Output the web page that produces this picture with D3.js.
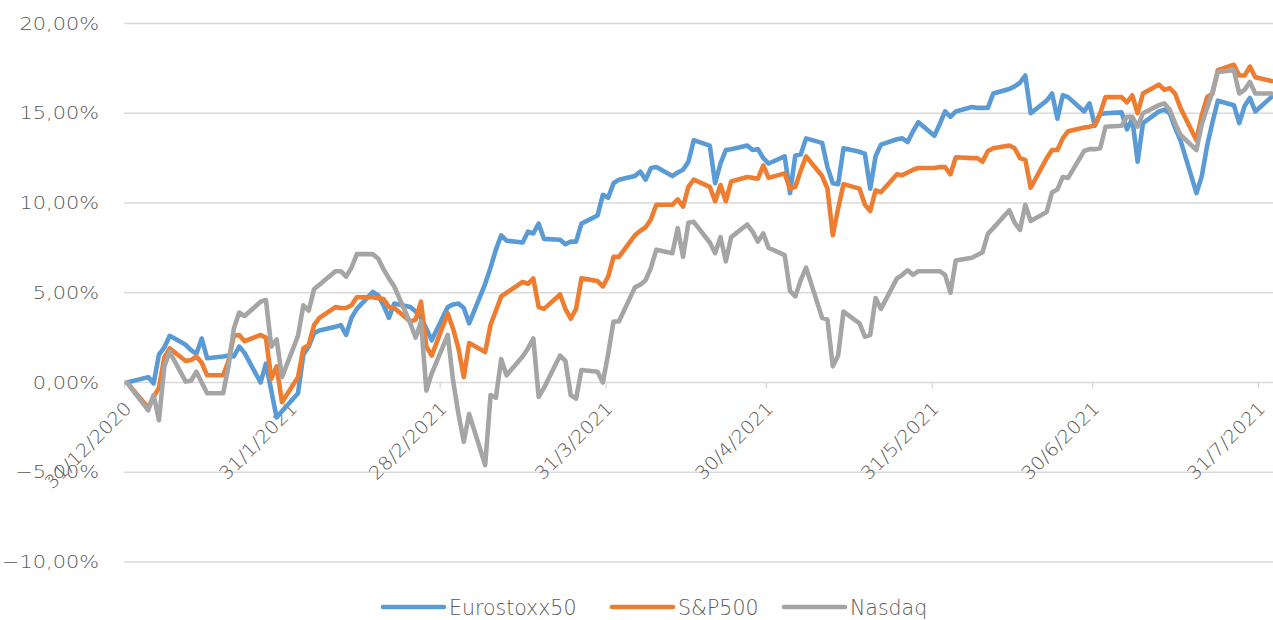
<!DOCTYPE html>
<html>
<head>
<meta charset="utf-8">
<script src="https://cdn.jsdelivr.net/npm/d3@7"></script>
<style>
  body { margin: 0; background: #fff; }
  svg text { font-family: "DejaVu Sans", sans-serif; font-weight: 200; fill: #595959; }
</style>
</head>
<body>
<div id="chart"></div>
<script>
// cumulative performance since 31/12/2020, in %
var euroPoints = [["31/12",0],["4/1",0.3],["5/1",-0.05],["6/1",1.55],["7/1",1.95],["8/1",2.6],
  ["11/1",2.1],["12/1",1.8],["13/1",1.6],["14/1",2.45],["15/1",1.35],["18/1",1.45],["19/1",1.5],
  ["20/1",1.45],["21/1",2.0],["22/1",1.65],["25/1",0.0],["26/1",1.05],["27/1",-0.45],["28/1",-1.95],
  ["29/1",-1.6],["1/2",-0.6],["2/2",1.55],["3/2",2.0],["4/2",2.75],["5/2",2.9],["8/2",3.1],["9/2",3.2],
  ["10/2",2.65],["11/2",3.6],["12/2",4.1],["15/2",5.05],["16/2",4.85],["17/2",4.3],["18/2",3.6],
  ["19/2",4.4],["22/2",4.2],["23/2",3.95],["24/2",3.6],["25/2",3.0],["26/2",2.35],["1/3",4.2],
  ["2/3",4.35],["3/3",4.4],["4/3",4.15],["5/3",3.3],["8/3",5.5],["9/3",6.4],["10/3",7.4],["11/3",8.2],
  ["12/3",7.9],["15/3",7.8],["16/3",8.4],["17/3",8.3],["18/3",8.85],["19/3",8.0],["22/3",7.95],
  ["23/3",7.7],["24/3",7.85],["25/3",7.85],["26/3",8.85],["29/3",9.3],["30/3",10.45],["31/3",10.3],
  ["1/4",11.1],["2/4",11.3],["5/4",11.5],["6/4",11.75],["7/4",11.3],["8/4",11.95],["9/4",12.0],
  ["12/4",11.5],["13/4",11.7],["14/4",11.85],["15/4",12.3],["16/4",13.5],["19/4",13.2],["20/4",11.1],
  ["21/4",12.2],["22/4",12.95],["23/4",13.0],["26/4",13.2],["27/4",12.95],["28/4",13.0],["29/4",12.5],
  ["30/4",12.2],["3/5",12.6],["4/5",10.55],["5/5",12.65],["6/5",12.7],["7/5",13.6],["10/5",13.35],
  ["11/5",12.0],["12/5",11.1],["13/5",11.05],["14/5",13.05],["17/5",12.85],["18/5",12.75],
  ["19/5",10.8],["20/5",12.6],["21/5",13.25],["24/5",13.55],["25/5",13.6],["26/5",13.4],["27/5",14.0],
  ["28/5",14.5],["31/5",13.75],["1/6",14.4],["2/6",15.1],["3/6",14.8],["4/6",15.1],["7/6",15.35],
  ["8/6",15.3],["9/6",15.3],["10/6",15.3],["11/6",16.1],["14/6",16.35],["15/6",16.5],["16/6",16.7],
  ["17/6",17.1],["18/6",15.0],["21/6",15.7],["22/6",16.1],["23/6",14.7],["24/6",16.0],["25/6",15.9],
  ["28/6",15.1],["29/6",15.55],["30/6",14.3],["1/7",14.95],["2/7",15.0],["5/7",15.05],["6/7",14.1],
  ["7/7",14.7],["8/7",12.3],["9/7",14.45],["12/7",15.1],["13/7",15.2],["14/7",15.0],["15/7",14.2],
  ["16/7",13.5],["19/7",10.55],["20/7",11.5],["21/7",13.2],["22/7",14.5],["23/7",15.7],["26/7",15.45],
  ["27/7",14.45],["28/7",15.4],["29/7",15.85],["30/7",15.1],["2/8",15.9]];

var spPoints = [["31/12",0],["4/1",-1.4],["5/1",-0.8],["6/1",-0.3],["7/1",1.4],["8/1",1.9],
  ["11/1",1.2],["12/1",1.25],["13/1",1.45],["14/1",1.1],["15/1",0.4],["18/1",0.4],["19/1",1.2],
  ["20/1",2.6],["21/1",2.65],["22/1",2.3],["25/1",2.65],["26/1",2.5],["27/1",0.2],["28/1",0.9],
  ["29/1",-1.1],["1/2",0.3],["2/2",1.9],["3/2",2.1],["4/2",3.2],["5/2",3.6],["8/2",4.2],["9/2",4.15],
  ["10/2",4.15],["11/2",4.3],["12/2",4.75],["15/2",4.75],["16/2",4.7],["17/2",4.65],["18/2",4.2],
  ["19/2",4.15],["22/2",3.4],["23/2",3.5],["24/2",4.5],["25/2",2.0],["26/2",1.5],["1/3",3.85],
  ["2/3",3.0],["3/3",1.9],["4/3",0.3],["5/3",2.2],["8/3",1.7],["9/3",3.2],["10/3",4.0],["11/3",4.8],
  ["12/3",5.0],["15/3",5.6],["16/3",5.5],["17/3",5.8],["18/3",4.2],["19/3",4.1],["22/3",4.9],
  ["23/3",4.1],["24/3",3.55],["25/3",4.1],["26/3",5.8],["29/3",5.65],["30/3",5.35],["31/3",5.9],
  ["1/4",7.0],["2/4",7.0],["5/4",8.2],["6/4",8.45],["7/4",8.65],["8/4",9.1],["9/4",9.9],["12/4",9.9],
  ["13/4",10.2],["14/4",9.8],["15/4",10.9],["16/4",11.3],["19/4",10.9],["20/4",10.1],["21/4",11.0],
  ["22/4",10.1],["23/4",11.2],["26/4",11.45],["27/4",11.4],["28/4",11.35],["29/4",12.1],["30/4",11.4],
  ["3/5",11.65],["4/5",10.8],["5/5",10.9],["6/5",11.8],["7/5",12.6],["10/5",11.5],["11/5",10.8],
  ["12/5",8.2],["13/5",9.7],["14/5",11.05],["17/5",10.8],["18/5",9.9],["19/5",9.55],["20/5",10.7],
  ["21/5",10.6],["24/5",11.6],["25/5",11.55],["26/5",11.7],["27/5",11.85],["28/5",11.95],
  ["31/5",11.95],["1/6",12.0],["2/6",12.0],["3/6",11.6],["4/6",12.55],["7/6",12.5],["8/6",12.5],
  ["9/6",12.3],["10/6",12.9],["11/6",13.05],["14/6",13.2],["15/6",13.05],["16/6",12.5],["17/6",12.4],
  ["18/6",10.85],["21/6",12.5],["22/6",12.95],["23/6",12.95],["24/6",13.6],["25/6",14.0],["28/6",14.2],
  ["29/6",14.25],["30/6",14.35],["1/7",15.0],["2/7",15.9],["5/7",15.9],["6/7",15.6],["7/7",16.0],
  ["8/7",15.0],["9/7",16.1],["12/7",16.6],["13/7",16.3],["14/7",16.4],["15/7",16.1],["16/7",15.3],
  ["19/7",13.5],["20/7",14.9],["21/7",15.9],["22/7",16.1],["23/7",17.4],["26/7",17.7],["27/7",17.1],
  ["28/7",17.1],["29/7",17.6],["30/7",17.0],["2/8",16.8]];

var nasdaqPoints = [["31/12",0],["4/1",-1.55],["5/1",-0.7],["6/1",-2.1],["7/1",0.9],["8/1",1.7],
  ["11/1",0.05],["12/1",0.1],["13/1",0.6],["14/1",0.0],["15/1",-0.6],["18/1",-0.6],["19/1",0.9],
  ["20/1",3.0],["21/1",3.9],["22/1",3.7],["25/1",4.5],["26/1",4.6],["27/1",2.0],["28/1",2.4],
  ["29/1",0.3],["1/2",2.6],["2/2",4.3],["3/2",4.0],["4/2",5.2],["5/2",5.45],["8/2",6.2],["9/2",6.2],
  ["10/2",5.9],["11/2",6.4],["12/2",7.15],["15/2",7.15],["16/2",6.9],["17/2",6.3],["18/2",5.8],
  ["19/2",5.35],["22/2",3.3],["23/2",2.5],["24/2",3.4],["25/2",-0.45],["26/2",0.5],["1/3",2.65],
  ["2/3",0.1],["3/3",-1.75],["4/3",-3.3],["5/3",-1.75],["8/3",-4.6],["9/3",-0.7],["10/3",-0.85],
  ["11/3",1.3],["12/3",0.4],["15/3",1.45],["16/3",1.9],["17/3",2.45],["18/3",-0.8],["19/3",-0.3],
  ["22/3",1.5],["23/3",1.2],["24/3",-0.7],["25/3",-0.9],["26/3",0.7],["29/3",0.6],["30/3",0.0],
  ["31/3",1.6],["1/4",3.4],["2/4",3.4],["5/4",5.3],["6/4",5.45],["7/4",5.7],["8/4",6.4],["9/4",7.4],
  ["12/4",7.2],["13/4",8.6],["14/4",7.0],["15/4",8.9],["16/4",8.95],["19/4",7.8],["20/4",7.2],
  ["21/4",8.1],["22/4",6.75],["23/4",8.1],["26/4",8.8],["27/4",8.4],["28/4",7.85],["29/4",8.3],
  ["30/4",7.5],["3/5",7.1],["4/5",5.1],["5/5",4.8],["6/5",5.7],["7/5",6.4],["10/5",3.6],["11/5",3.5],
  ["12/5",0.9],["13/5",1.5],["14/5",3.95],["17/5",3.3],["18/5",2.55],["19/5",2.65],["20/5",4.7],
  ["21/5",4.1],["24/5",5.8],["25/5",6.0],["26/5",6.25],["27/5",6.0],["28/5",6.2],["31/5",6.2],
  ["1/6",6.2],["2/6",6.0],["3/6",5.0],["4/6",6.8],["7/6",6.95],["8/6",7.1],["9/6",7.25],["10/6",8.3],
  ["11/6",8.6],["14/6",9.6],["15/6",8.9],["16/6",8.5],["17/6",9.9],["18/6",9.0],["21/6",9.5],
  ["22/6",10.6],["23/6",10.75],["24/6",11.45],["25/6",11.4],["28/6",12.9],["29/6",13.0],["30/6",13.0],
  ["1/7",13.05],["2/7",14.25],["5/7",14.3],["6/7",14.8],["7/7",14.8],["8/7",14.25],["9/7",15.0],
  ["12/7",15.45],["13/7",15.55],["14/7",15.2],["15/7",14.45],["16/7",13.8],["19/7",12.95],
  ["20/7",14.4],["21/7",15.3],["22/7",16.2],["23/7",17.3],["26/7",17.4],["27/7",16.1],["28/7",16.3],
  ["29/7",16.75],["30/7",16.1],["2/8",16.1]];

var seriesNames = ["Eurostoxx50", "S&P500", "Nasdaq"];
var seriesColors = ["#5b9bd5", "#ed7d31", "#a5a5a5"];
var yTicks = [-10, -5, 0, 5, 10, 15, 20];
var xTickLabels = ["31/12/2020", "31/1/2021", "28/2/2021", "31/3/2021", "30/4/2021",
  "31/5/2021", "30/6/2021", "31/7/2021"];

var svgWidth = 1273, svgHeight = 620;
var plot = { left: 124.2, right: 1274, top: 23.5, bottom: 562 };

var svg = d3.select("#chart").append("svg")
  .attr("width", svgWidth)
  .attr("height", svgHeight);

var parseDay = d3.timeParse("%d/%m/%Y");
// points sit in the middle of their day, like the excel date axis
function toDate(s) {
  var year = s === "31/12" ? "2020" : "2021";
  return d3.timeHour.offset(parseDay(s + "/" + year), 12);
}

var xScale = d3.scaleTime()
  .domain([parseDay("31/12/2020"), parseDay("3/8/2021")])
  .range([plot.left, plot.right]);
var yScale = d3.scaleLinear()
  .domain([-10, 20])
  .range([plot.bottom, plot.top]);

// gridlines
svg.append("g").selectAll("line")
  .data(yTicks)
  .enter().append("line")
  .attr("x1", plot.left)
  .attr("x2", svgWidth)
  .attr("y1", d => yScale(d))
  .attr("y2", d => yScale(d))
  .attr("stroke", "#d9d9d9")
  .attr("stroke-width", 1.3);

// y labels
var fmt = d3.format(".2f");
svg.append("g").selectAll("text")
  .data(yTicks)
  .enter().append("text")
  .attr("text-anchor", "end")
  .attr("font-size", 18.3)
  .attr("transform", d => `translate(99, ${yScale(d) + 6}) scale(1.14, 1)`)
  .text(d => fmt(d).replace(".", ",") + "%");

// x axis ticks and rotated labels
var y0 = yScale(0);
var tickDates = xTickLabels.map(parseDay);
var xAxis = d3.axisBottom(xScale)
  .tickValues(tickDates)
  .tickSize(6)
  .tickFormat((d, i) => xTickLabels[i]);
var axisG = svg.append("g")
  .attr("transform", `translate(0, ${y0})`)
  .call(xAxis);
axisG.select(".domain").remove();
axisG.selectAll(".tick line").attr("stroke", "#d9d9d9").attr("stroke-width", 1.3);
axisG.selectAll(".tick text")
  .attr("fill", "#595959")
  .attr("font-size", 18.3)
  .attr("font-family", null)
  .attr("text-anchor", "end")
  .attr("x", null).attr("y", null).attr("dy", null)
  .attr("transform", "translate(8, 27) rotate(-45) scale(1.08, 1)");

// lines
var line = d3.line()
  .x(d => xScale(toDate(d[0])))
  .y(d => yScale(d[1]));

[euroPoints, spPoints, nasdaqPoints].forEach((pts, i) => {
  svg.append("path")
    .datum(pts)
    .attr("fill", "none")
    .attr("stroke", seriesColors[i])
    .attr("stroke-width", 4.6)
    .attr("stroke-linejoin", "round")
    .attr("stroke-linecap", "round")
    .attr("d", line);
});

// legend
var legendX = [383, 612, 784];
var legend = svg.append("g").selectAll("g")
  .data(seriesNames)
  .enter().append("g")
  .attr("transform", (d, i) => `translate(${legendX[i]}, 607)`);
legend.append("line")
  .attr("x1", 0).attr("x2", 61)
  .attr("stroke", (d, i) => seriesColors[i])
  .attr("stroke-width", 4.6)
  .attr("stroke-linecap", "round");
legend.append("text")
  .attr("font-size", 20.5)
  .attr("x", 66)
  .attr("y", 7.5)
  .text(d => d);
</script>
</body>
</html>
